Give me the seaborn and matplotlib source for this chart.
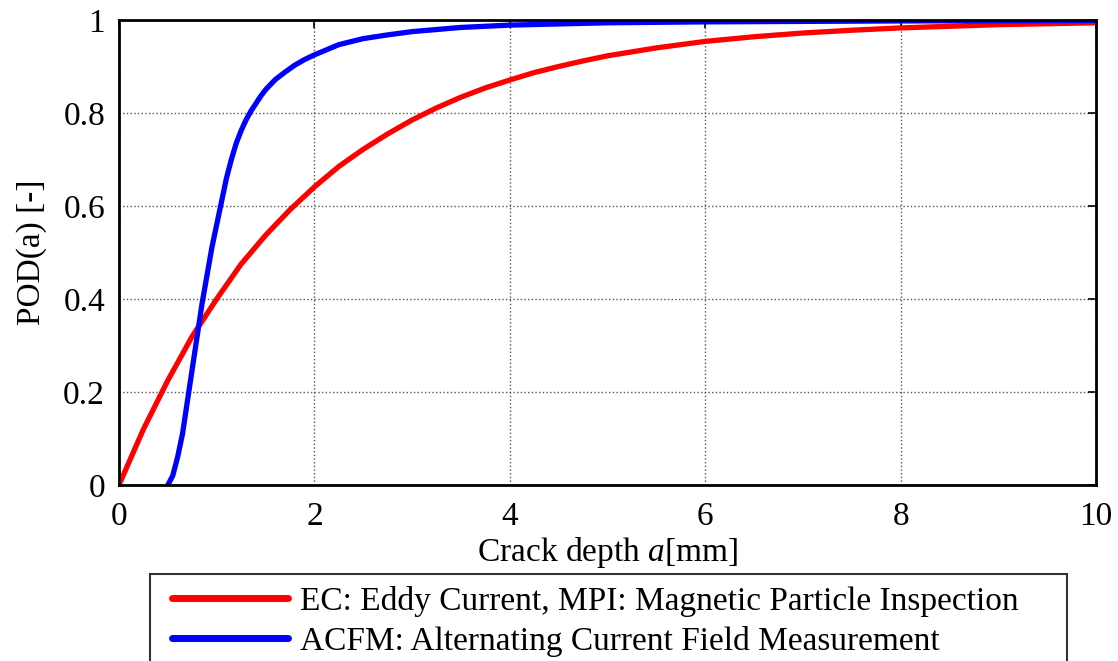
import numpy as np
import pandas as pd
import matplotlib
matplotlib.use("Agg")
import matplotlib.pyplot as plt
from matplotlib.lines import Line2D
from matplotlib.legend_handler import HandlerLine2D
import seaborn as sns

# ---- data ----
ec_a = [0.0, 0.25, 0.5, 0.75, 1.0, 1.25, 1.5, 1.75, 2.0, 2.25, 2.5, 2.75, 3.0,
        3.25, 3.5, 3.75, 4.0, 4.25, 4.5, 4.75, 5.0, 5.5, 6.0, 6.5, 7.0, 7.5,
        8.0, 9.0, 10.0]
ec_pod = [0.0, 0.12, 0.225, 0.32, 0.40, 0.475, 0.537, 0.592, 0.641, 0.685, 0.722,
          0.755, 0.785, 0.811, 0.834, 0.854, 0.871, 0.887, 0.900, 0.912, 0.923,
          0.940, 0.954, 0.964, 0.972, 0.978, 0.983, 0.990, 0.994]

acfm_a = [0.50, 0.55, 0.60, 0.65, 0.70, 0.75, 0.80, 0.85, 0.90, 0.95, 1.00, 1.05,
          1.10, 1.15, 1.20, 1.25, 1.30, 1.35, 1.40, 1.45, 1.50, 1.60, 1.70, 1.80,
          1.90, 2.00, 2.25, 2.50, 2.75, 3.00, 3.50, 4.00, 5.00, 6.00, 8.00, 10.0]
acfm_pod = [0.0, 0.02, 0.06, 0.11, 0.18, 0.25, 0.32, 0.39, 0.45, 0.51, 0.56, 0.61,
            0.66, 0.70, 0.735, 0.762, 0.785, 0.804, 0.82, 0.836, 0.85, 0.872,
            0.888, 0.903, 0.915, 0.925, 0.947, 0.960, 0.968, 0.975, 0.984, 0.989,
            0.994, 0.996, 0.998, 0.999]

series_labels = ["EC: Eddy Current, MPI: Magnetic Particle Inspection",
                 "ACFM: Alternating Current Field Measurement"]
x_ticks = [0, 2, 4, 6, 8, 10]
y_ticks = [0, 0.2, 0.4, 0.6, 0.8, 1.0]
y_tick_labels = ["0", "0.2", "0.4", "0.6", "0.8", "1"]
x_label = "Crack depth $\\mathit{a}$[mm]"
y_label = "POD(a) [-]"

df_ec = pd.DataFrame({"a": ec_a, "pod": ec_pod})
df_acfm = pd.DataFrame({"a": acfm_a, "pod": acfm_pod})

sns.set_style("white")
plt.rcParams["font.family"] = ["Liberation Serif", "DejaVu Serif"]
plt.rcParams["mathtext.fontset"] = "custom"
plt.rcParams["mathtext.it"] = "Liberation Serif:italic"
plt.rcParams["mathtext.rm"] = "Liberation Serif"
plt.rcParams["text.color"] = "black"
plt.rcParams["axes.labelcolor"] = "black"

FS = 24
W, H = 1118, 661
fig = plt.figure(figsize=(W / 100, H / 100), dpi=100)
ax = fig.add_axes([119 / W, 1 - 485 / H, (1096 - 119) / W, (485 - 20) / H])

sns.lineplot(data=df_ec, x="a", y="pod", color="#ff0000", linewidth=3.8,
             ax=ax, label=series_labels[0], estimator=None, sort=False)
sns.lineplot(data=df_acfm, x="a", y="pod", color="#0000ff", linewidth=3.8,
             ax=ax, label=series_labels[1], estimator=None, sort=False)

ax.set_xlim(0, 10)
ax.set_ylim(0, 1)
ax.set_xticks(x_ticks)
ax.set_xticklabels([str(t) for t in x_ticks])
ax.set_yticks(y_ticks)
ax.set_yticklabels(y_tick_labels)
ax.grid(True, linestyle=":", color="#555555", linewidth=1.0)
ax.tick_params(direction="in", length=6, width=1.2, top=True, right=True,
               labelsize=FS, colors="black", pad=10)
ax.tick_params(axis="x", pad=12)
for s in ax.spines.values():
    s.set_color("black")
    s.set_linewidth(2.0)

ax.set_xlabel(x_label, fontsize=FS, labelpad=2)
ax.set_ylabel(y_label, fontsize=FS, labelpad=12)

handles, labels = ax.get_legend_handles_labels()
ax.get_legend().remove()
leg = fig.legend(handles, labels, loc="upper left",
                 bbox_to_anchor=(150 / W, 0, (1067 - 150) / W, 1 - 574 / H),
                 mode="expand", fontsize=FS, frameon=True, fancybox=False,
                 edgecolor="black", handlelength=3.79, handletextpad=0.36,
                 labelspacing=0.28, borderpad=0.35, borderaxespad=0,
                 handler_map={Line2D: HandlerLine2D(xpad=0.31)})
leg.get_frame().set_linewidth(1.5)
for line in leg.get_lines():
    line.set_linewidth(5)

fig.savefig("out.png", dpi=100)
